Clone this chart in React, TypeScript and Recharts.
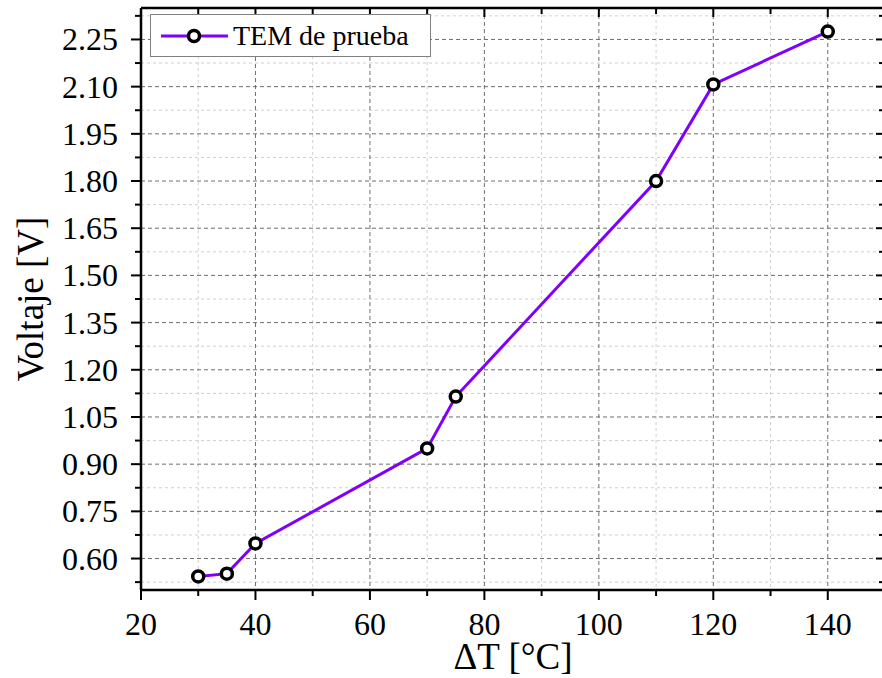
import { LineChart, Line, XAxis, YAxis, CartesianGrid, Legend } from "recharts"

const deltaT = [30, 35, 40, 70, 75, 110, 120, 140]
const voltaje = [0.543, 0.552, 0.648, 0.95, 1.115, 1.8, 2.107, 2.275]

const xMajor = [20, 40, 60, 80, 100, 120, 140]
const xMinor = [30, 50, 70, 90, 110, 130, 150]
const xAll = [20, 30, 40, 50, 60, 70, 80, 90, 100, 110, 120, 130, 140, 150]

const yMajor = [0.6, 0.75, 0.9, 1.05, 1.2, 1.35, 1.5, 1.65, 1.8, 1.95, 2.1, 2.25]
const yMinor = [0.525, 0.675, 0.825, 0.975, 1.125, 1.275, 1.425, 1.575, 1.725, 1.875, 2.025, 2.175, 2.325]
const yAll = [...yMajor, ...yMinor].sort((a, b) => a - b)

const X_DOMAIN: [number, number] = [20, 150]
const Y_DOMAIN: [number, number] = [0.5, 2.35]

const data = deltaT.map((t, i) => ({ t, v: voltaje[i] }))

const FONT = "Liberation Serif"
const PURPLE = "#7F00FF"

// chart layout
const CHART_W = 892
const CHART_H = 678
const MARGIN = { top: 8, right: 7, bottom: 0, left: 0 }
const X_AXIS_H = 88
const Y_AXIS_W = 141
const PLOT_W = CHART_W - MARGIN.left - MARGIN.right - Y_AXIS_W
const PLOT_H = CHART_H - MARGIN.top - MARGIN.bottom - X_AXIS_H

const isMajor = (list: number[], v: number) => list.some((m) => Math.abs(m - v) < 1e-6)

// bottom ticks + mirrored inward ticks on the top frame
function BottomTick({ x, y, payload }: any) {
  const major = isMajor(xMajor, payload.value)
  const first = Math.abs(payload.value - X_DOMAIN[0]) < 1e-6
  const top = y - PLOT_H
  return (
    <g>
      {first && <line x1={x} y1={top} x2={x + PLOT_W} y2={top} stroke="#000" strokeWidth={2.5} />}
      <line x1={x} y1={y} x2={x} y2={y + (major ? 10 : 6)} stroke="#000" strokeWidth={2} />
      <line x1={x} y1={top} x2={x} y2={top + (major ? 9 : 6)} stroke="#000" strokeWidth={2} />
      {major && (
        <text x={x} y={y + 45} textAnchor="middle" fontSize={32} style={{ fontFamily: FONT }} fill="#000">
          {payload.value}
        </text>
      )}
    </g>
  )
}

// left ticks + mirrored inward ticks on the right frame
function LeftTick({ x, y, payload }: any) {
  const major = isMajor(yMajor, payload.value)
  const first = Math.abs(payload.value - yAll[0]) < 1e-6
  const right = x + PLOT_W
  return (
    <g>
      {first && <line x1={right} y1={y + 20} x2={right} y2={y + 20 - PLOT_H} stroke="#000" strokeWidth={2.5} />}
      <line x1={x} y1={y} x2={x - (major ? 10 : 6)} y2={y} stroke="#000" strokeWidth={2} />
      <line x1={right} y1={y} x2={right - (major ? 9 : 6)} y2={y} stroke="#000" strokeWidth={2} />
      {major && (
        <text x={x - 23} y={y + 11} textAnchor="end" fontSize={32} style={{ fontFamily: FONT }} fill="#000">
          {payload.value.toFixed(2)}
        </text>
      )}
    </g>
  )
}

function LegendBox() {
  return (
    <div
      style={{
        boxSizing: "border-box",
        width: 281,
        height: 43,
        border: "1px solid #808080",
        background: "#fff",
        display: "flex",
        alignItems: "center",
        fontFamily: FONT,
        fontSize: 28,
        color: "#000",
      }}
    >
      <svg width={80} height={30} style={{ marginLeft: 9 }}>
        <line x1={1} y1={15} x2={68} y2={15} stroke={PURPLE} strokeWidth={3} />
        <circle cx={34} cy={15} r={5.5} fill="#fff" stroke="#000" strokeWidth={3.5} />
      </svg>
      <span style={{ marginLeft: -7, lineHeight: 1 }}>TEM de prueba</span>
    </div>
  )
}

export default function App() {
  return (
    <div
      style={{
        position: "absolute",
        left: 0,
        top: 0,
        width: 882,
        height: 678,
        overflow: "hidden",
        background: "#fff",
      }}
    >
      <LineChart width={CHART_W} height={CHART_H} data={data} margin={MARGIN}>
        <XAxis xAxisId="gmin" dataKey="t" type="number" domain={X_DOMAIN} ticks={xMinor} height={0} hide />
        <XAxis xAxisId="gmaj" dataKey="t" type="number" domain={X_DOMAIN} ticks={xMajor} height={0} hide />
        <YAxis yAxisId="gmin" dataKey="v" type="number" domain={Y_DOMAIN} ticks={yMinor} width={0} hide />
        <YAxis yAxisId="gmaj" dataKey="v" type="number" domain={Y_DOMAIN} ticks={yMajor} width={0} hide />

        <CartesianGrid xAxisId="gmin" yAxisId="gmin" stroke="#cfcfcf" strokeDasharray="3 3" />
        <CartesianGrid xAxisId="gmaj" yAxisId="gmaj" stroke="#6e6e6e" strokeDasharray="4 3" />

        <XAxis
          xAxisId="main"
          dataKey="t"
          type="number"
          domain={X_DOMAIN}
          ticks={xAll}
          interval={0}
          height={X_AXIS_H}
          tickSize={0}
          tickMargin={0}
          tickLine={false}
          tick={<BottomTick />}
          axisLine={{ stroke: "#000", strokeWidth: 2.5 }}
          label={{
            content: ({ viewBox }: any) => (
              <text
                x={viewBox.x + viewBox.width / 2}
                y={669}
                textAnchor="middle"
                fontSize={37}
                style={{ fontFamily: FONT }}
                fill="#000"
              >
                ΔT [°C]
              </text>
            ),
          }}
        />
        <YAxis
          yAxisId="main"
          dataKey="v"
          type="number"
          domain={Y_DOMAIN}
          ticks={yAll}
          interval={0}
          width={Y_AXIS_W}
          tickSize={0}
          tickMargin={0}
          tickLine={false}
          tick={<LeftTick />}
          axisLine={{ stroke: "#000", strokeWidth: 2.5 }}
          label={{
            content: ({ viewBox }: any) => {
              const cy = viewBox.y + viewBox.height / 2
              return (
                <text
                  x={43}
                  y={cy}
                  transform={`rotate(-90, 43, ${cy})`}
                  textAnchor="middle"
                  fontSize={37}
                  style={{ fontFamily: FONT }}
                  fill="#000"
                >
                  Voltaje [V]
                </text>
              )
            },
          }}
        />

        <Legend
          layout="vertical"
          align="center"
          verticalAlign="middle"
          content={() => <LegendBox />}
          wrapperStyle={{ left: 150, top: 14, width: 281, height: 43 }}
        />

        <Line
          xAxisId="main"
          yAxisId="main"
          dataKey="v"
          name="TEM de prueba"
          stroke={PURPLE}
          strokeWidth={3}
          dot={{ r: 5.5, stroke: "#000", strokeWidth: 3.5, fill: "#fff" }}
          isAnimationActive={false}
        />
      </LineChart>
    </div>
  )
}
